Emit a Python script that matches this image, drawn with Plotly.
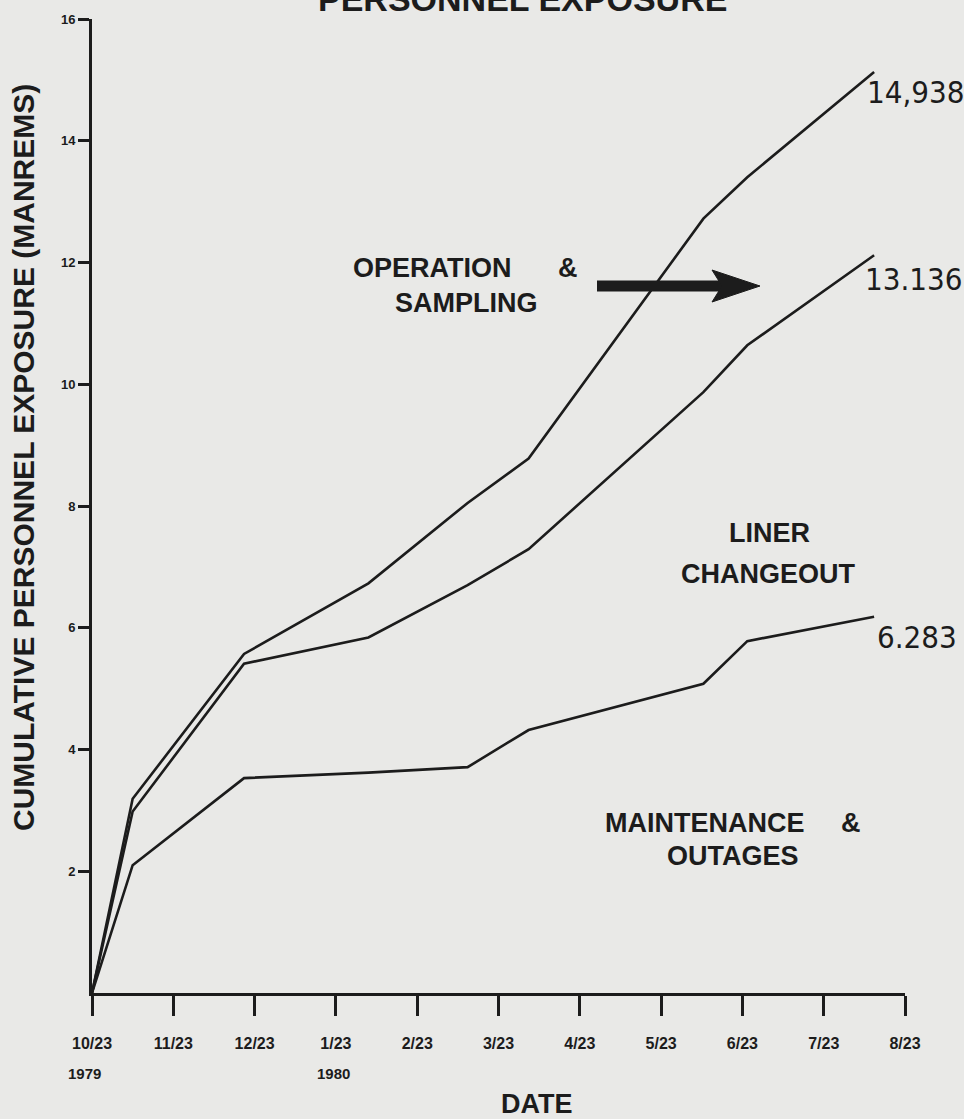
import plotly.graph_objects as go

# ---- data (months since 10/23/1979, cumulative manrems) ----
months = [0, 0.5, 1.87, 3.4, 4.62, 5.37, 7.52, 8.06, 9.62]
total_exposure = [0, 3.19, 5.57, 6.73, 8.05, 8.78, 12.72, 13.40, 15.13]
maint_plus_liner = [0, 2.98, 5.41, 5.84, 6.70, 7.29, 9.87, 10.64, 12.12]
maintenance = [0, 2.10, 3.53, 3.62, 3.71, 4.32, 5.08, 5.78, 6.18]
end_labels = ["14,938", "13.136", "6.283"]

tick_months = list(range(11))
tick_labels = ["10/23", "11/23", "12/23", "1/23", "2/23", "3/23",
               "4/23", "5/23", "6/23", "7/23", "8/23"]
y_ticks = [2, 4, 6, 8, 10, 12, 14, 16]

# ---- geometry helpers (pixel -> data / paper) ----
W, H = 964, 1119
L, R, T, B = 92, 59, 19, 126
X0, X1 = 0, 10
Y0, Y1 = 0, 16
pw, ph = W - L - R, H - T - B


def px2x(px):
    return X0 + (px - L) / pw * (X1 - X0)


def px2y(py):
    return Y0 + (H - B - py) / ph * (Y1 - Y0)


def ppx(px):
    return (px - L) / pw


def ppy(py):
    return (H - B - py) / ph


BG = "#e9e9e7"
INK = "#1c1c1c"
BOLD = "Liberation Sans, Arial, sans-serif"
NARROW = "DejaVu Sans Condensed, Liberation Sans Narrow, sans-serif"

fig = go.Figure()
for series in (total_exposure, maint_plus_liner, maintenance):
    fig.add_trace(go.Scatter(x=months, y=series, mode="lines",
                             line=dict(color=INK, width=2.6),
                             showlegend=False, hoverinfo="skip"))

ann = []


def txt(px, py, s, size=28, family=BOLD, weight="bold", angle=0):
    ann.append(dict(xref="paper", yref="paper", x=ppx(px), y=ppy(py), text=s,
                    showarrow=False, xanchor="center", yanchor="middle",
                    textangle=angle,
                    font=dict(family=family, size=size, color=INK, weight=weight)))


# end value labels
for (cx, cy), lab in zip(((916, 92), (914, 279), (917, 637)), end_labels):
    txt(cx, cy, lab, 31, NARROW, "normal")

txt(432, 268, "OPERATION", 27)
txt(568, 268, "&", 27)
txt(466, 303, "SAMPLING", 27)
txt(769, 533, "LINER", 27)
txt(768, 574, "CHANGEOUT", 27)
txt(705, 823, "MAINTENANCE", 27)
txt(851, 823, "&", 27)
txt(733, 856, "OUTAGES", 27)
# year labels
txt(84, 1073, "1979", 15)
txt(333, 1073, "1980", 15)
# axis titles
txt(537, 1104, "DATE", 27)
txt(23, 458, "CUMULATIVE PERSONNEL EXPOSURE (MANREMS)", 30, angle=-90)
# chart title (cut at the top edge, as in the original scan)
ann.append(dict(xref="paper", yref="paper", x=ppx(522), y=ppy(20),
                text="PERSONNEL EXPOSURE", showarrow=False,
                xanchor="center", yanchor="bottom",
                font=dict(family=BOLD, size=34, color=INK, weight="bold")))

shapes = [
    dict(type="line", x0=px2x(597), x1=px2x(722), y0=px2y(286), y1=px2y(286),
         line=dict(color=INK, width=11)),
    dict(type="path",
         path=f"M {px2x(712)} {px2y(270)} L {px2x(760)} {px2y(286)} L {px2x(712)} {px2y(302)} L {px2x(722)} {px2y(286)} Z",
         fillcolor=INK, line=dict(color=INK, width=1)),
]

fig.update_layout(
    width=W, height=H,
    margin=dict(l=L, r=R, t=T, b=B, autoexpand=False),
    paper_bgcolor=BG, plot_bgcolor=BG,
    annotations=ann, shapes=shapes,
    xaxis=dict(range=[X0, X1], tickvals=tick_months, ticktext=tick_labels,
               showgrid=False, zeroline=False, showline=True,
               linecolor=INK, linewidth=3, ticks="outside", ticklen=20,
               tickwidth=3, tickcolor=INK, ticklabelstandoff=14,
               tickfont=dict(family=BOLD, size=16, color=INK, weight="bold")),
    yaxis=dict(range=[Y0, Y1], tickvals=y_ticks,
               showgrid=False, zeroline=False, showline=True,
               linecolor=INK, linewidth=3, ticks="outside", ticklen=11,
               tickwidth=3, tickcolor=INK,
               tickfont=dict(family=BOLD, size=13, color=INK, weight="bold")),
)

fig.write_html("out.html", config={"displayModeBar": False},
               post_script="document.body.style.margin='0';")
